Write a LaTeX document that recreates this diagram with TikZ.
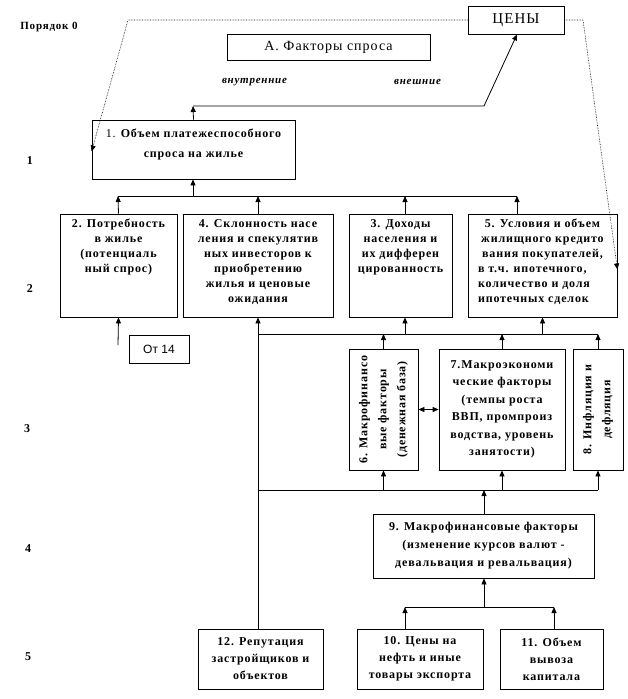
\documentclass[tikz,border=0pt]{standalone}
\usepackage{fontspec}
\usepackage{graphicx}
\setmainfont{Liberation Serif}
\setsansfont{Liberation Sans}
\newfontfamily\spacedfont[LetterSpace=7]{Liberation Serif}
\usetikzlibrary{arrows.meta}

\newcommand{\boxfont}{\spacedfont\bfseries\fontsize{12}{15}\selectfont}
\newcommand{\toptext}[3]{\parbox[c][#2][t]{#1}{\centering\strut #3}}

\begin{document}
\begin{tikzpicture}[x=1pt, y=-1pt, line width=0.8pt,
  box/.style={draw, inner sep=0pt, font=\boxfont, align=center},
  arr/.style={-{Triangle[length=6pt,width=5pt]}},
  twoway/.style={{Triangle[length=6pt,width=5pt]}-{Triangle[length=6pt,width=5pt]}},
  hint/.style={densely dotted, line width=0.6pt},
  lvl/.style={font=\spacedfont\bfseries\fontsize{12}{14}\selectfont}]
  \useasboundingbox (0,0) rectangle (627,699);
  % levels
  \node[lvl, font=\spacedfont\bfseries\fontsize{11}{13}\selectfont] (lvl0) at (49,27) {Порядок 0};
  \node[lvl] (lvl1) at (30,161) {1};
  \node[lvl] (lvl2) at (30,289) {2};
  \node[lvl] (lvl3) at (27,429) {3};
  \node[lvl] (lvl4) at (28,549) {4};
  \node[lvl] (lvl5) at (28,657) {5};
  % order 0 and 1
  \node[box, minimum width=203pt, minimum height=26pt, font=\spacedfont\fontsize{14}{16}\selectfont] (title) at (328.5,47) {А. Факторы спроса};
  \node[box, minimum width=96pt, minimum height=28pt, font=\spacedfont\fontsize{15}{17}\selectfont] (prices) at (516,20) {ЦЕНЫ};
  \node[lvl, font=\spacedfont\bfseries\itshape\fontsize{11}{13}\selectfont] (inner) at (254.5,82) {внутренние};
  \node[lvl, font=\spacedfont\bfseries\itshape\fontsize{11}{13}\selectfont] (outer) at (417.5,82) {внешние};
  \node[box, minimum width=203pt, minimum height=59pt, font=\spacedfont\bfseries\fontsize{12}{20}\selectfont] (b1) at (193.5,149.5)
    {\toptext{195pt}{53pt}{{\mdseries 1.} Объем платежеспособного\\ спроса на жилье}};
  % order 2
  \node[box, minimum width=117pt, minimum height=103pt] (b2) at (118.5,265.5)
    {\toptext{110pt}{97pt}{2. Потребность\\ в жилье\\ (потенциаль\\ ный спрос)}};
  \node[box, minimum width=150pt, minimum height=103pt] (b4) at (258,265.5)
    {\toptext{144pt}{97pt}{4. Склонность насе\\ ления и спекулятив\\ ных инвесторов к\\ приобретению\\ жилья и ценовые\\ ожидания}};
  \node[box, minimum width=103pt, minimum height=103pt] (b3) at (400.5,265.5)
    {\toptext{99pt}{97pt}{3. Доходы\\ населения и\\ их дифферен\\ цированность}};
  \node[box, minimum width=149pt, minimum height=103pt] (b5) at (542.5,265.5)
    {\parbox[c][97pt][t]{139pt}{\centering\strut 5. Условия и объем\\ жилищного кредито\\ вания покупателей,\par
     \raggedright\leftskip=5pt в т.ч. ипотечного,\\ количество и доля\\ ипотечных сделок}};
  \node[box, minimum width=60pt, minimum height=28pt, font=\sffamily\fontsize{12}{14}\selectfont] (ot14) at (159,349) {От 14};
  % order 3
  \node[box, minimum width=69pt, minimum height=121pt] (b6) at (383.5,409.5)
    {\rotatebox{90}{\parbox{117pt}{\centering\baselineskip=19pt 6. Макрофинансо\\ вые факторы\\ (денежная база)}}};
  \node[box, minimum width=126pt, minimum height=121pt, font=\spacedfont\bfseries\fontsize{12}{17.5}\selectfont] (b7) at (502,409.5)
    {7.Макроэкономи\\ ческие факторы\\ (темпы роста\\ ВВП, промпроиз\\ водства, уровень\\ занятости)};
  \node[box, minimum width=50pt, minimum height=121pt] (b8) at (598,409.5)
    {\rotatebox{90}{\parbox{117pt}{\centering\baselineskip=19pt 8. Инфляция и\\ дефляция}}};
  % order 4 and 5
  \node[box, minimum width=221pt, minimum height=64pt, font=\spacedfont\bfseries\fontsize{12}{18}\selectfont] (b9) at (483.5,546)
    {9. Макрофинансовые факторы\\ (изменение курсов валют -\\ девальвация и ревальвация)};
  \node[box, minimum width=126pt, minimum height=60pt, font=\spacedfont\bfseries\fontsize{12}{17}\selectfont] (b10) at (420,659)
    {10. Цены на\\ нефть и иные\\ товары экспорта};
  \node[box, minimum width=103pt, minimum height=60pt, font=\spacedfont\bfseries\fontsize{12}{17}\selectfont] (b11) at (551.5,659)
    {11. Объем\\ вывоза\\ капитала};
  \node[box, minimum width=125pt, minimum height=60pt, font=\spacedfont\bfseries\fontsize{12}{17}\selectfont] (b12) at (260.5,659)
    {12. Репутация\\ застройщиков и\\ объектов};

  % bends and bus points
  \coordinate (d1) at (128,20);
  \coordinate (d2) at (583,20);
  \coordinate (u1) at (193,106);
  \coordinate (u2) at (484,106);
  \coordinate (r2a) at (118,196);
  \coordinate (r2b) at (517,196);
  \coordinate (r3a) at (258,334);
  \coordinate (r3b) at (598,334);
  \coordinate (r4a) at (258,490);
  \coordinate (r4b) at (598,490);
  \coordinate (r5a) at (405,607);
  \coordinate (r5b) at (554,607);
  \coordinate (from) at (118,345);

  % dotted links of prices
  \draw[hint, -{Triangle[length=6pt,width=5pt]}] (prices.west) -- (d1) -- ([yshift=-2pt]b1.west);
  \draw[hint, -{Triangle[length=6pt,width=5pt]}] (prices.east) -- (d2) -- ([yshift=-4pt]b5.east);
  % to prices
  \draw[arr] (b1.north) -- (u1);
  \draw[arr] (u1) -- (u2) -- ([xshift=1pt]prices.south);
  % order 2 bus
  \draw (r2a) -- (r2b);
  \draw[arr] (b2.north) -- (r2a);
  \draw[arr] (b4.north) -- (b4.north |- r2a);
  \draw[arr] ([xshift=4.5pt]b3.north) -- ([xshift=4.5pt]b3.north |- r2a);
  \draw[arr] (b5.north -| r2b) -- (r2b);
  \draw[arr] (u1 |- r2a) -- (b1.south -| u1);
  \draw[arr] (from) -- (b2.south);
  % order 3 bus
  \draw (r3a) -- (r3b);
  \draw[arr] (b12.north -| r3a) -- (b4.south);
  \draw[arr] ([xshift=4.5pt]b3.south |- r3a) -- ([xshift=4.5pt]b3.south);
  \draw[arr] (b5.south |- r3a) -- (b5.south);
  \draw[arr] (b6.north) -- (b6.north |- r3a);
  \draw[arr] (b7.north) -- (b7.north |- r3a);
  \draw[arr] (b8.north) -- (b8.north |- r3a);
  \draw[twoway] (b6.east) -- (b7.west);
  % order 4 bus
  \draw (r4a) -- (r4b);
  \draw[arr] (b6.south |- r4a) -- (b6.south);
  \draw[arr] (b7.south |- r4a) -- (b7.south);
  \draw[arr] (b8.south |- r4a) -- (b8.south);
  \draw[arr] (b9.north -| u2) -- (u2 |- r4a);
  % order 5 bus
  \draw (r5a) -- (r5b);
  \draw[arr] (u2 |- r5a) -- (b9.south -| u2);
  \draw[arr] (b10.north -| r5a) -- (r5a);
  \draw[arr] (b11.north -| r5b) -- (r5b);
\end{tikzpicture}
\end{document}
